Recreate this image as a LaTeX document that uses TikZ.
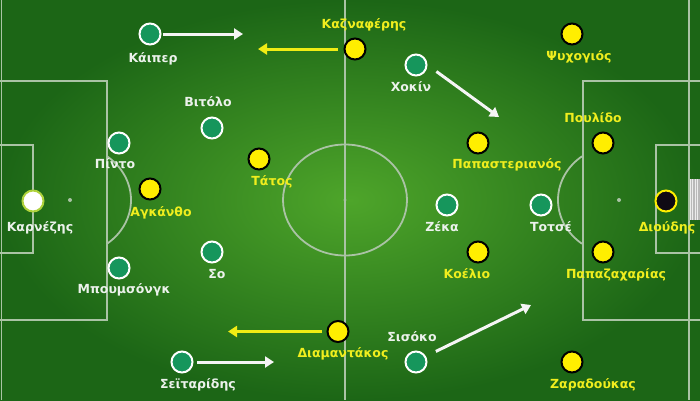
\documentclass[tikz,border=0pt]{standalone}
\usepackage{fontspec}
\setmainfont{DejaVu Sans}
\usetikzlibrary{arrows.meta}
\definecolor{fieldin}{RGB}{78,165,42}
\definecolor{fieldout}{RGB}{28,102,22}
\definecolor{fline}{RGB}{170,195,165}
\definecolor{gteam}{RGB}{22,150,92}
\definecolor{yteam}{RGB}{255,238,0}
\definecolor{ytext}{RGB}{240,238,30}
\definecolor{wtext}{RGB}{236,242,236}
\definecolor{warr}{RGB}{245,245,245}
\definecolor{yarr}{RGB}{240,236,20}
\tikzset{
  x=1pt, y=-1pt,
  pitchline/.style={draw=fline, line width=1.8pt},
  gplayer/.style={circle, fill=gteam, draw=white, line width=2pt, minimum size=21pt, inner sep=0pt},
  yplayer/.style={circle, fill=yteam, draw=black, line width=2pt, minimum size=21pt, inner sep=0pt},
  gkwhite/.style={circle, fill=white, draw={rgb,255:red,175;green,210;blue,60}, line width=2pt, minimum size=21pt, inner sep=0pt},
  gkblack/.style={circle, fill={rgb,255:red,15;green,10;blue,20}, draw=yteam, line width=2pt, minimum size=21pt, inner sep=0pt},
  wlabel/.style={text=wtext, anchor=base, inner sep=0pt, font=\bfseries\fontsize{12.5}{14}\selectfont},
  ylabel/.style={text=ytext, anchor=base, inner sep=0pt, font=\bfseries\fontsize{12.5}{14}\selectfont},
  warrow/.style={draw=warr, line width=3pt, -{Triangle[length=9pt,width=11pt]}},
  yarrow/.style={draw=yarr, line width=3pt, -{Triangle[length=9pt,width=11pt]}},
}
\begin{document}
\begin{tikzpicture}
\useasboundingbox (0,0) rectangle (700,400);
% pitch
\shade[inner color=fieldin, outer color=fieldout] (0,0) rectangle (700,400);
\draw[pitchline] (1.5,0) -- (1.5,400);
\draw[pitchline] (689,0) -- (689,400);
\draw[pitchline] (345,0) -- (345,400);
\draw[pitchline] (345,200) ellipse [x radius=62, y radius=55.5];
\fill[fline] (345,200) circle [radius=1.6];
% left boxes
\draw[pitchline] (0,81) -- (107,81) -- (107,320) -- (0,320);
\draw[pitchline] (0,145) -- (33,145) -- (33,253) -- (0,253);
\fill[fline] (70,200) circle [radius=2];
\draw[pitchline] plot[domain=-52.7:52.7, samples=40, smooth] ({70+61*cos(\x)},{200+55*sin(\x)});
% right boxes
\draw[pitchline] (700,81) -- (583,81) -- (583,320) -- (700,320);
\draw[pitchline] (700,145) -- (656,145) -- (656,253) -- (700,253);
\fill[fline] (619,200) circle [radius=2];
\draw[pitchline] plot[domain=-52.7:52.7, samples=40, smooth] ({619-61*cos(\x)},{200+55*sin(\x)});
% goal net
\fill[gray!55] (690,179) rectangle (700,220);
\draw[white!85!gray, line width=0.4pt] (690,179) grid[xstep=2.5, ystep=2.5] (700,220);

% green players
\node[gplayer] (kaiper) at (150,34) {};
\node[wlabel] (kaiperL) at (153,62) {Κάιπερ};
\node[gplayer] (vitolo) at (212,128) {};
\node[wlabel] (vitoloL) at (208,106) {Βιτόλο};
\node[gplayer] (pinto) at (119,143) {};
\node[wlabel] (pintoL) at (115,168) {Πίντο};
\node[gkwhite] (karnezis) at (33,201) {};
\node[wlabel] (karnezisL) at (40,231) {Καρνέζης};
\node[gplayer] (boum) at (119,268) {};
\node[wlabel] (boumL) at (124,293) {Μπουμσόνγκ};
\node[gplayer] (so) at (212,252) {};
\node[wlabel] (soL) at (217,278) {Σο};
\node[gplayer] (seit) at (182,362) {};
\node[wlabel] (seitL) at (198,388) {Σεϊταρίδης};
\node[gplayer] (hokin) at (416,65) {};
\node[wlabel] (hokinL) at (411,91) {Χοκίν};
\node[gplayer] (zeka) at (447,205) {};
\node[wlabel] (zekaL) at (442,231) {Ζέκα};
\node[gplayer] (totse) at (541,205) {};
\node[wlabel] (totseL) at (551,231) {Τοτσέ};
\node[gplayer] (sisoko) at (416,362) {};
\node[wlabel] (sisokoL) at (412,341) {Σισόκο};

% yellow players
\node[yplayer] (kazn) at (355,49) {};
\node[ylabel] (kaznL) at (364,28) {Καζναφέρης};
\node[yplayer] (tatos) at (259,159) {};
\node[ylabel] (tatosL) at (272,185) {Τάτος};
\node[yplayer] (agk) at (150,189) {};
\node[ylabel] (agkL) at (161,216) {Αγκάνθο};
\node[yplayer] (diam) at (338,331.5) {};
\node[ylabel] (diamL) at (343,357) {Διαμαντάκος};
\node[yplayer] (psych) at (572,34) {};
\node[ylabel] (psychL) at (579,60) {Ψυχογιός};
\node[yplayer] (papast) at (478,143) {};
\node[ylabel] (papastL) at (507,168) {Παπαστεριανός};
\node[yplayer] (poul) at (603,143) {};
\node[ylabel] (poulL) at (593,122) {Πουλίδο};
\node[gkblack] (dioud) at (666,201) {};
\node[ylabel] (dioudL) at (667,231) {Διούδης};
\node[yplayer] (koel) at (478,252) {};
\node[ylabel] (koelL) at (467,278) {Κοέλιο};
\node[yplayer] (papaz) at (603,252) {};
\node[ylabel] (papazL) at (616,278) {Παπαζαχαρίας};
\node[yplayer] (zar) at (572,362) {};
\node[ylabel] (zarL) at (593,388) {Ζαραδούκας};

% arrows
\coordinate (kaiperTo) at (243,34);
\coordinate (kaznTo) at (258,49);
\coordinate (hokinTo) at (499,117);
\coordinate (diamTo) at (228,331.5);
\coordinate (seitTo) at (274,362);
\coordinate (sisokoTo) at (531,305);
\draw[warrow, shorten <=1.5pt] (kaiper) -- (kaiperTo);
\draw[yarrow, shorten <=6pt] (kazn) -- (kaznTo);
\draw[warrow, shorten <=11pt] (hokin.east) -- (hokinTo);
\draw[yarrow, shorten <=4.5pt] (diam) -- (diamTo);
\draw[warrow, shorten <=3.5pt] (seit) -- (seitTo);
\draw[warrow, shorten <=11pt] (sisoko.30) -- (sisokoTo);
\end{tikzpicture}
\end{document}
